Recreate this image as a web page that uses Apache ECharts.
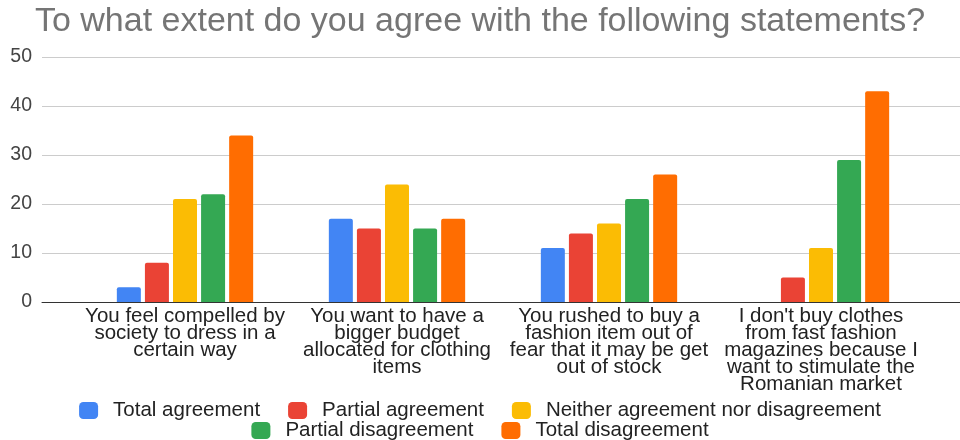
<!DOCTYPE html>
<html><head><meta charset="utf-8">
<script src="https://cdn.jsdelivr.net/npm/echarts@6/dist/echarts.min.js"></script>
<style>html,body{margin:0;padding:0;background:#fff}#c{width:960px;height:440px}</style>
</head><body><div id="c"></div>
<script>
const title = 'To what extent do you agree with the following statements?';
const categories = [
  'You feel compelled by\nsociety to dress in a\ncertain way',
  'You want to have a\nbigger budget\nallocated for clothing\nitems',
  'You rushed to buy a\nfashion item out of\nfear that it may be get\nout of stock',
  "I don't buy clothes\nfrom fast fashion\nmagazines because I\nwant to stimulate the\nRomanian market"
];
const seriesNames = ['Total agreement','Partial agreement','Neither agreement nor disagreement','Partial disagreement','Total disagreement'];
const totalAgreement = [3, 17, 11, 0];
const partialAgreement = [8, 15, 14, 5];
const neitherAgreement = [21, 24, 16, 11];
const partialDisagreement = [22, 15, 21, 29];
const totalDisagreement = [34, 17, 26, 43];
const yTicks = [0, 10, 20, 30, 40, 50];
const colors = ['#4285F4','#EA4335','#FBBC04','#34A853','#FF6D01'];
const values = [totalAgreement, partialAgreement, neitherAgreement, partialDisagreement, totalDisagreement];

const font = 'Liberation Sans, Arial, sans-serif';
const chart = echarts.init(document.getElementById('c'));
const legendCommon = {
  left: 'center', padding: 0, itemWidth: 19, itemHeight: 17, itemGap: 28, icon: 'roundRect',
  textStyle: {fontFamily: font, fontSize: 20.5, color: '#222', padding: [0,0,0,10]}
};
chart.setOption({
  animation: false,
  title: {text: title, left: 'center', top: 0, textStyle: {fontFamily: font, fontSize: 34, fontWeight: 'normal', color: '#757575'}},
  legend: [
    Object.assign({}, legendCommon, {top: 400, data: seriesNames.slice(0,3)}),
    Object.assign({}, legendCommon, {top: 420, data: seriesNames.slice(3)})
  ],
  grid: [
    {left: 79, right: 33, top: 57, bottom: 138},
    {left: 42, right: 0, top: 57, bottom: 138}
  ],
  xAxis: [
    {type: 'category', gridIndex: 0, data: categories, axisLine: {show: false}, axisTick: {show: false},
     axisLabel: {interval: 0, margin: 6, fontFamily: font, fontSize: 20.5, lineHeight: 17, color: '#222'}},
    {type: 'category', gridIndex: 1, data: categories, axisLine: {show: true, lineStyle: {color: '#333', width: 1}},
     axisTick: {show: false}, axisLabel: {show: false}}
  ],
  yAxis: [
    {type: 'value', gridIndex: 0, min: 0, max: 50, interval: 10, axisLabel: {show: false}, splitLine: {show: false}, axisLine: {show: false}},
    {type: 'value', gridIndex: 1, min: yTicks[0], max: yTicks[yTicks.length-1], interval: 10,
     axisLabel: {margin: 10, fontFamily: font, fontSize: 19.5, color: '#444'},
     splitLine: {lineStyle: {color: '#cccccc', width: 1}}, axisLine: {show: false}}
  ],
  series: seriesNames.map((n, i) => ({
    name: n, type: 'bar', xAxisIndex: 0, yAxisIndex: 0, data: values[i],
    barWidth: 24, barGap: '17%', itemStyle: {color: colors[i], borderRadius: [2,2,0,0]}
  }))
});
</script></body></html>
